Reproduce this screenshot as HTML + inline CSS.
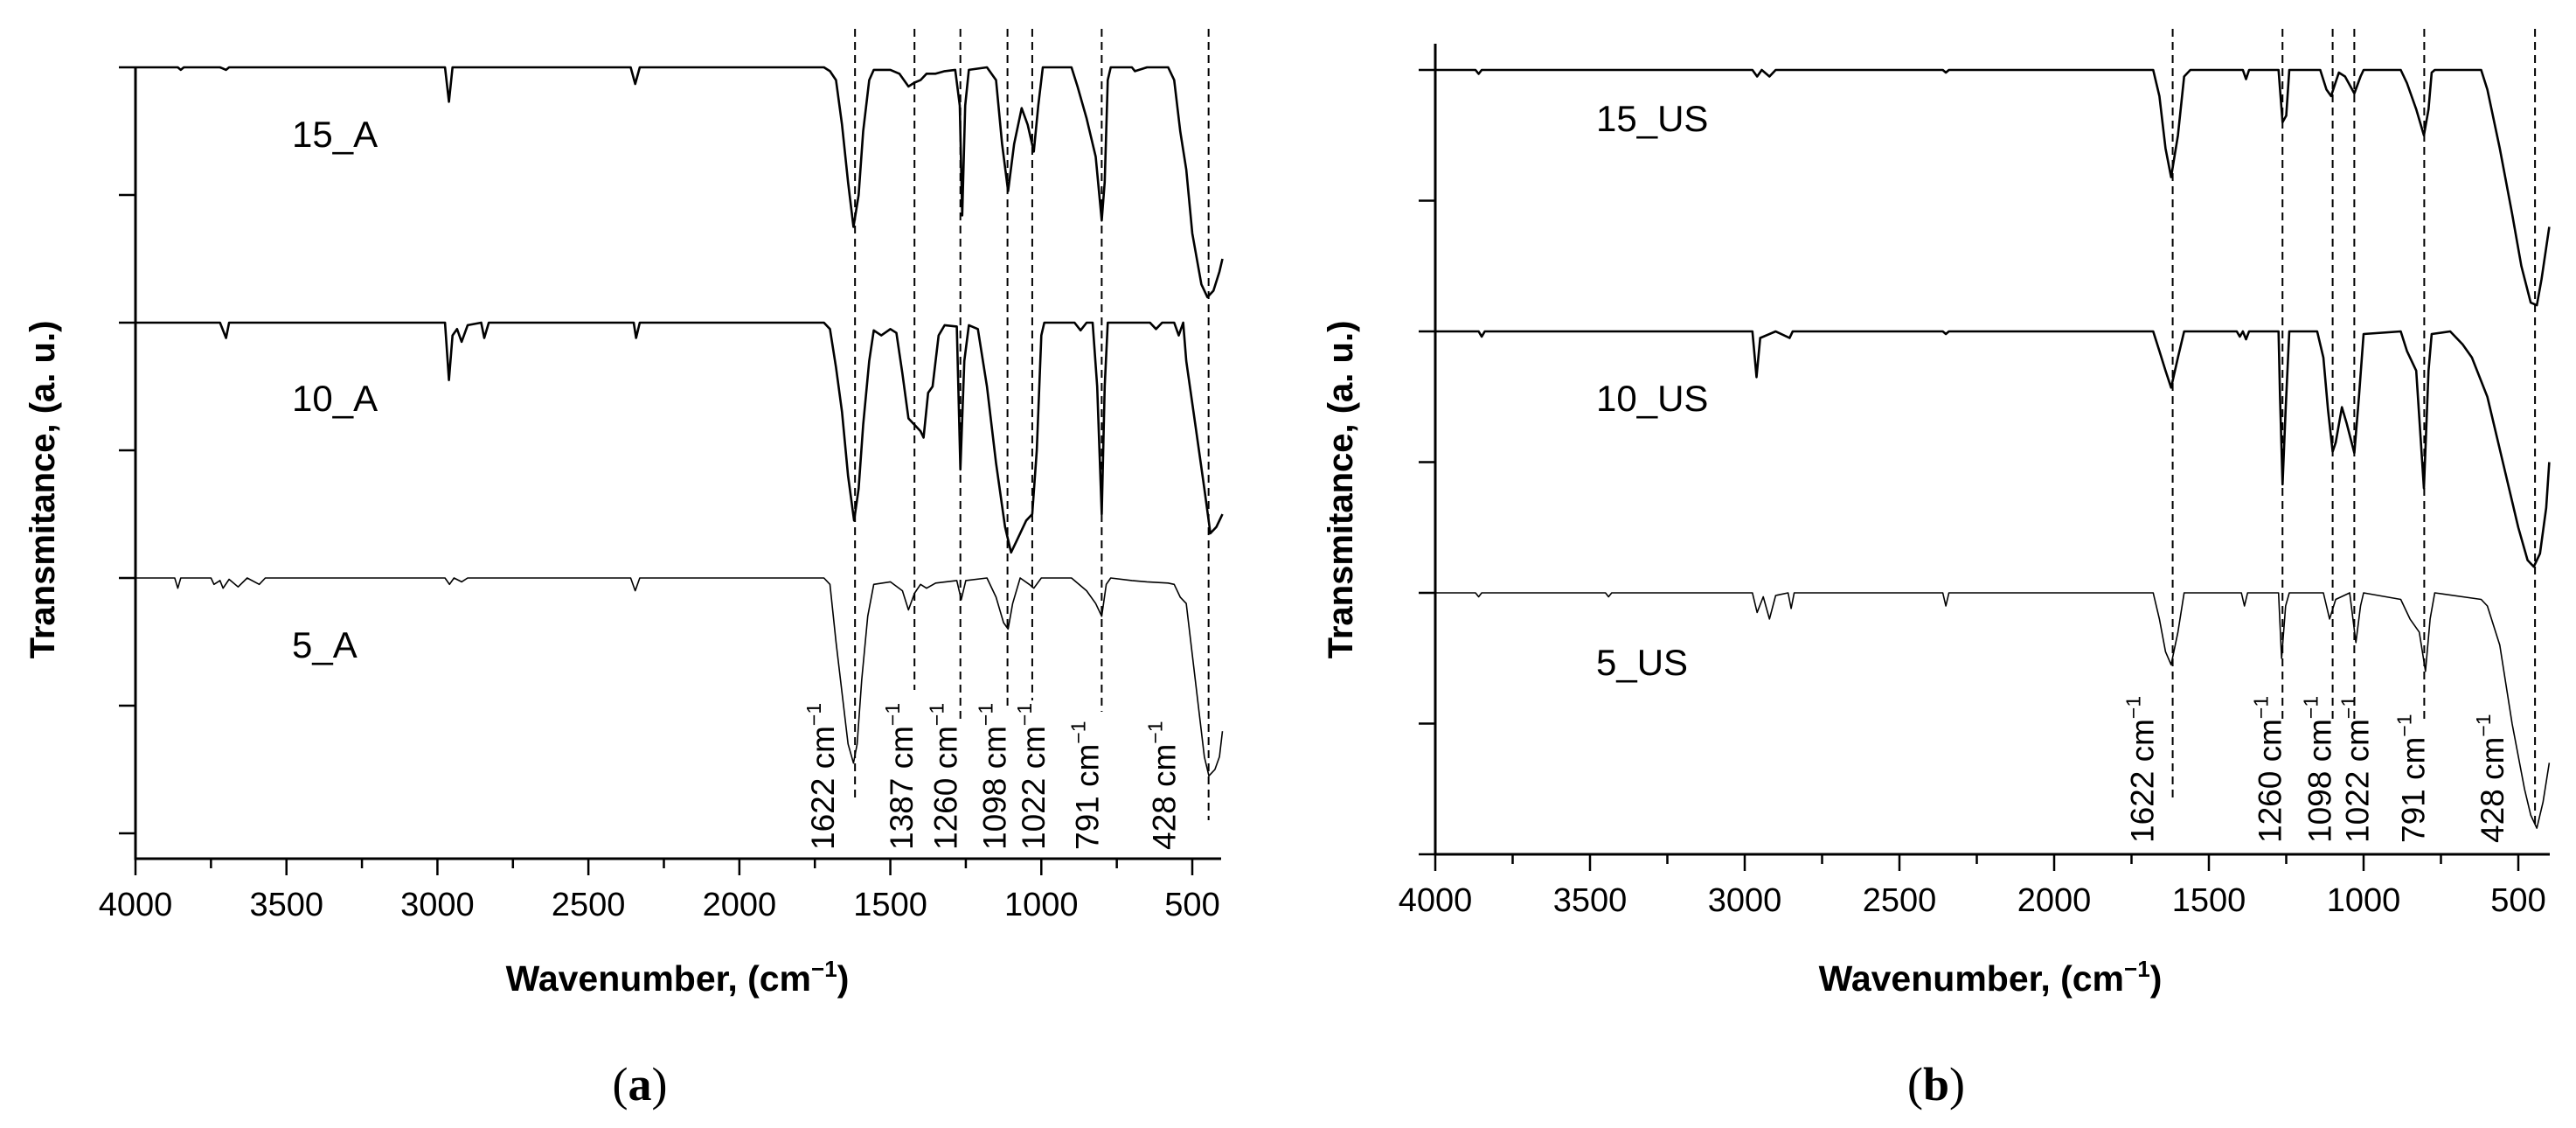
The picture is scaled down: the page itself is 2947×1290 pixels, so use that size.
<!DOCTYPE html>
<html><head><meta charset="utf-8">
<style>
html,body{margin:0;padding:0;background:#fff;}
svg{display:block;}
text{font-family:"Liberation Sans",Arial,sans-serif;fill:#000;}
</style></head>
<body>
<svg id="chart" width="2947" height="1290" viewBox="0 0 2947 1290" xmlns="http://www.w3.org/2000/svg"></svg>
<script>
// ---------- DATA (wavenumber, depth below baseline in tick units) ----------
const xTicks = [4000,3500,3000,2500,2000,1500,1000,500];
const bandLabelsA = ["1622","1387","1260","1098","1022","791","428"];
const bandPosA = [1617,1420,1268,1112,1030,800,446];
const bandLabelsB = ["1622","1260","1098","1022","791","428"];
const bandPosB = [1617,1262,1100,1030,804,446];
const seriesNamesA = ["15_A","10_A","5_A"];
const seriesNamesB = ["15_US","10_US","5_US"];
const baselines = [4,2,0];

const s15A_w = [4000,3860,3850,3840,3720,3700,3690,2975,2962,2950,2360,2345,2330,1720,1700,1680,1660,1640,1622,1605,1590,1570,1555,1500,1470,1440,1420,1400,1380,1350,1320,1285,1270,1262,1252,1240,1180,1150,1130,1110,1090,1065,1045,1025,1010,995,900,880,850,820,800,790,780,770,700,690,650,580,560,540,520,500,470,450,430,410,400];
const s15A_d = [0,0,0.02,0,0,0.02,0,0,0.27,0,0,0.13,0,0,0.03,0.1,0.45,0.9,1.25,1.0,0.5,0.1,0.02,0.02,0.05,0.15,0.12,0.1,0.05,0.05,0.03,0.02,0.3,1.16,0.3,0.02,0,0.1,0.6,0.97,0.6,0.32,0.45,0.66,0.3,0,0,0.15,0.4,0.7,1.2,0.9,0.1,0,0,0.03,0,0,0.1,0.5,0.8,1.3,1.7,1.8,1.75,1.6,1.5];
const s10A_w = [4000,3720,3700,3690,2975,2962,2950,2935,2920,2900,2855,2845,2830,2350,2342,2330,1720,1700,1680,1660,1640,1620,1605,1590,1570,1555,1530,1500,1480,1460,1440,1420,1400,1390,1375,1360,1340,1320,1280,1268,1255,1240,1210,1180,1150,1120,1100,1080,1050,1030,1015,1000,990,890,870,850,830,815,800,790,780,640,620,600,560,545,530,520,490,460,440,420,400];
const s10A_d = [0,0,0.12,0,0,0.45,0.1,0.05,0.15,0.02,0,0.12,0,0,0.12,0,0,0.05,0.35,0.7,1.2,1.55,1.3,0.8,0.3,0.06,0.1,0.05,0.08,0.4,0.75,0.8,0.85,0.9,0.55,0.5,0.1,0.02,0.03,1.15,0.3,0.02,0.05,0.5,1.1,1.6,1.8,1.7,1.55,1.5,1.0,0.1,0,0,0.06,0,0,0.5,1.5,0.5,0,0,0.05,0,0,0.1,0,0.3,0.8,1.3,1.65,1.6,1.5];
const s5A_w = [4000,3870,3860,3850,3750,3740,3720,3710,3690,3660,3630,3590,3570,2975,2960,2945,2920,2900,2360,2345,2330,1720,1700,1680,1660,1640,1622,1610,1595,1575,1555,1500,1460,1440,1420,1400,1380,1350,1280,1265,1250,1180,1150,1125,1110,1095,1070,1040,1025,1000,900,850,820,800,785,770,700,650,580,560,540,520,500,480,460,445,425,410,400];
const s5A_d = [0,0,0.08,0,0,0.05,0.02,0.08,0.01,0.07,0,0.05,0,0,0.05,0,0.03,0,0,0.1,0,0,0.05,0.5,0.9,1.3,1.45,1.3,0.8,0.3,0.05,0.03,0.1,0.25,0.12,0.05,0.08,0.04,0.02,0.17,0.02,0,0.15,0.35,0.4,0.2,0,0.05,0.08,0,0,0.1,0.2,0.3,0.05,0,0.02,0.03,0.04,0.05,0.15,0.2,0.6,1.0,1.4,1.55,1.5,1.4,1.2];
const s15U_w = [4000,3870,3860,3850,2975,2960,2945,2920,2900,2360,2350,2340,1680,1660,1640,1622,1600,1580,1560,1390,1380,1370,1275,1262,1250,1240,1140,1120,1105,1080,1060,1030,1010,1000,880,860,830,805,790,780,770,620,600,560,520,490,460,440,425,400];
const s15U_d = [0,0,0.03,0,0,0.05,0,0.05,0,0,0.02,0,0,0.2,0.6,0.82,0.5,0.05,0,0,0.07,0,0,0.4,0.35,0,0,0.15,0.2,0.02,0.05,0.18,0.05,0,0,0.1,0.3,0.5,0.3,0.02,0,0,0.15,0.6,1.1,1.5,1.78,1.8,1.6,1.2];
const s10U_w = [4000,3860,3850,3840,2975,2962,2950,2900,2855,2845,2360,2350,2340,1680,1660,1640,1622,1600,1580,1410,1400,1390,1380,1370,1275,1270,1262,1252,1240,1150,1130,1115,1100,1090,1070,1055,1030,1015,1000,880,860,830,805,790,780,720,680,650,600,550,500,470,450,430,410,400];
const s10U_d = [0,0,0.04,0,0,0.35,0.05,0,0.05,0,0,0.02,0,0,0.15,0.3,0.43,0.2,0,0,0.04,0,0.06,0,0,0.5,1.17,0.6,0,0,0.2,0.6,0.92,0.85,0.58,0.7,0.93,0.5,0.02,0,0.15,0.3,1.2,0.3,0.02,0,0.1,0.2,0.5,1.0,1.5,1.75,1.8,1.7,1.35,1.0];
const s5U_w = [4000,3870,3860,3850,3450,3440,3430,2975,2960,2940,2920,2900,2860,2850,2840,2360,2350,2340,1680,1660,1640,1622,1600,1580,1395,1385,1375,1275,1265,1252,1240,1130,1110,1090,1045,1025,1010,1000,880,850,820,800,785,770,620,600,560,520,480,460,440,420,400];
const s5U_d = [0,0,0.03,0,0,0.03,0,0,0.15,0.03,0.2,0.02,0,0.12,0,0,0.1,0,0,0.2,0.45,0.55,0.3,0,0,0.1,0,0,0.5,0.1,0,0,0.2,0.05,0,0.38,0.1,0,0.05,0.2,0.3,0.6,0.2,0,0.05,0.1,0.4,1.0,1.5,1.7,1.8,1.6,1.3];

const NS="http://www.w3.org/2000/svg";
const svg=document.getElementById('chart');
function mk(tag,attrs,parent){const e=document.createElementNS(NS,tag);for(const k in attrs)e.setAttribute(k,attrs[k]);(parent||svg).appendChild(e);return e;}

function panel(cfg){
  const g=mk('g',{});
  
  
  const X=w=>cfg.x0+(4000-w)*(cfg.x500-cfg.x0)/3500;
  const Y=v=>cfg.y0+(v-0)*(cfg.y4-cfg.y0)/4;
  const ya=mk('line',{x1:cfg.x0,y1:cfg.yTop,x2:cfg.x0,y2:cfg.yAxis+1.5,stroke:'#000','stroke-width':3},g);
  
  
  const xa=mk('line',{x1:cfg.x0-1.5,y1:cfg.yAxis,x2:cfg.xEnd,y2:cfg.yAxis,stroke:'#000','stroke-width':3},g);
  
  
  for(let v=4;v>=-2;v--){
    const yy=Y(v);
    const t=mk('line',{x1:cfg.x0-19,y1:yy,x2:cfg.x0,y2:yy,stroke:'#000','stroke-width':2.5},g);
    
    
  }
  for(let w=4000;w>=500;w-=250){
    const major=(w%500===0);
    const t=mk('line',{x1:X(w),y1:cfg.yAxis,x2:X(w),y2:cfg.yAxis+(major?19:11),stroke:'#000','stroke-width':2.5},g);
    
    
  }
  xTicks.forEach(w=>{
    const t=mk('text',{x:X(w),y:cfg.yAxis+65,'text-anchor':'middle','font-size':38},g);
    t.textContent=w;
    
    
  });
  cfg.bandPos.forEach((w,i)=>{
    const l=mk('line',{x1:X(w),y1:33,x2:X(w),y2:cfg.bandEnd[i],stroke:'#000','stroke-width':2,'stroke-dasharray':'9,6'},g);
    
    
    const tx=X(w)-cfg.labelOff[i], ty=cfg.labelBottom;
    const t=mk('text',{x:tx,y:ty,'font-size':37,transform:`rotate(-90 ${tx} ${ty})`},g);
    t.textContent=cfg.bandLabels[i]+' cm';
    const s=mk('tspan',{'font-size':23,dy:-15},t);
    s.textContent='\u22121';
    
    
  });
  cfg.series.forEach((s,i)=>{
    let d='';
    s.w.forEach((w,j)=>{d+=(j?'L':'M')+X(w).toFixed(1)+','+Y(baselines[i]-s.d[j]).toFixed(1);});
    const p=mk('path',{d:d,fill:'none',stroke:'#000','stroke-width':i===2?1.6:2.6,'stroke-linejoin':'round'},g);
    
    
    const t=mk('text',{x:cfg.nameX,y:cfg.nameY[i],'font-size':42},g);
    t.textContent=cfg.names[i];
    
    
  });
  const xt=mk('text',{x:cfg.xTitleX,y:1133,'text-anchor':'middle','font-size':41,'font-weight':'bold'},g);
  xt.textContent='Wavenumber, (cm';
  const sp=mk('tspan',{'font-size':26,dy:-16},xt);sp.textContent='\u22121';
  const sp2=mk('tspan',{dy:16},xt);sp2.textContent=')';
  
  
  const yt=mk('text',{x:cfg.yTitleX,y:560,'text-anchor':'middle','font-size':40,'font-weight':'bold',transform:`rotate(-90 ${cfg.yTitleX} 560)`},g);
  yt.textContent='Transmitance, (a. u.)';
  
  
  const pl=mk('text',{x:cfg.panelX,y:1258,'text-anchor':'middle','font-size':54,style:'font-family:"Liberation Serif",serif'},g);
  const a=mk('tspan',{},pl);a.textContent='(';
  const b=mk('tspan',{'font-weight':'bold'},pl);b.textContent=cfg.letter;
  const c=mk('tspan',{},pl);c.textContent=')';
  
  
}

panel({id:'panel-a',letter:'a',x0:155,x500:1364,xEnd:1397,y0:661,y4:77,yTop:77,yAxis:982,
  bandPos:bandPosA,bandLabels:bandLabelsA,bandEnd:[917,789,826,810,801,814,938],
  labelOff:[24,2,4,2,-14,4,38],labelBottom:972,
  series:[{w:s15A_w,d:s15A_d},{w:s10A_w,d:s10A_d},{w:s5A_w,d:s5A_d}],
  names:seriesNamesA,nameX:334,
  nameY:[168,470,752],xTitleX:775,yTitleX:62,panelX:732});
panel({id:'panel-b',letter:'b',x0:1642,x500:2881,xEnd:2917,y0:678,y4:80,yTop:50,yAxis:977,
  bandPos:bandPosB,bandLabels:bandLabelsB,bandEnd:[913,826,826,826,826,942],
  labelOff:[22,2,2,-16,0,36],labelBottom:964,
  series:[{w:s15U_w,d:s15U_d},{w:s10U_w,d:s10U_d},{w:s5U_w,d:s5U_d}],
  names:seriesNamesB,nameX:1826,
  nameY:[150,470,772],xTitleX:2277,yTitleX:1547,panelX:2215});
</script>
</body></html>
